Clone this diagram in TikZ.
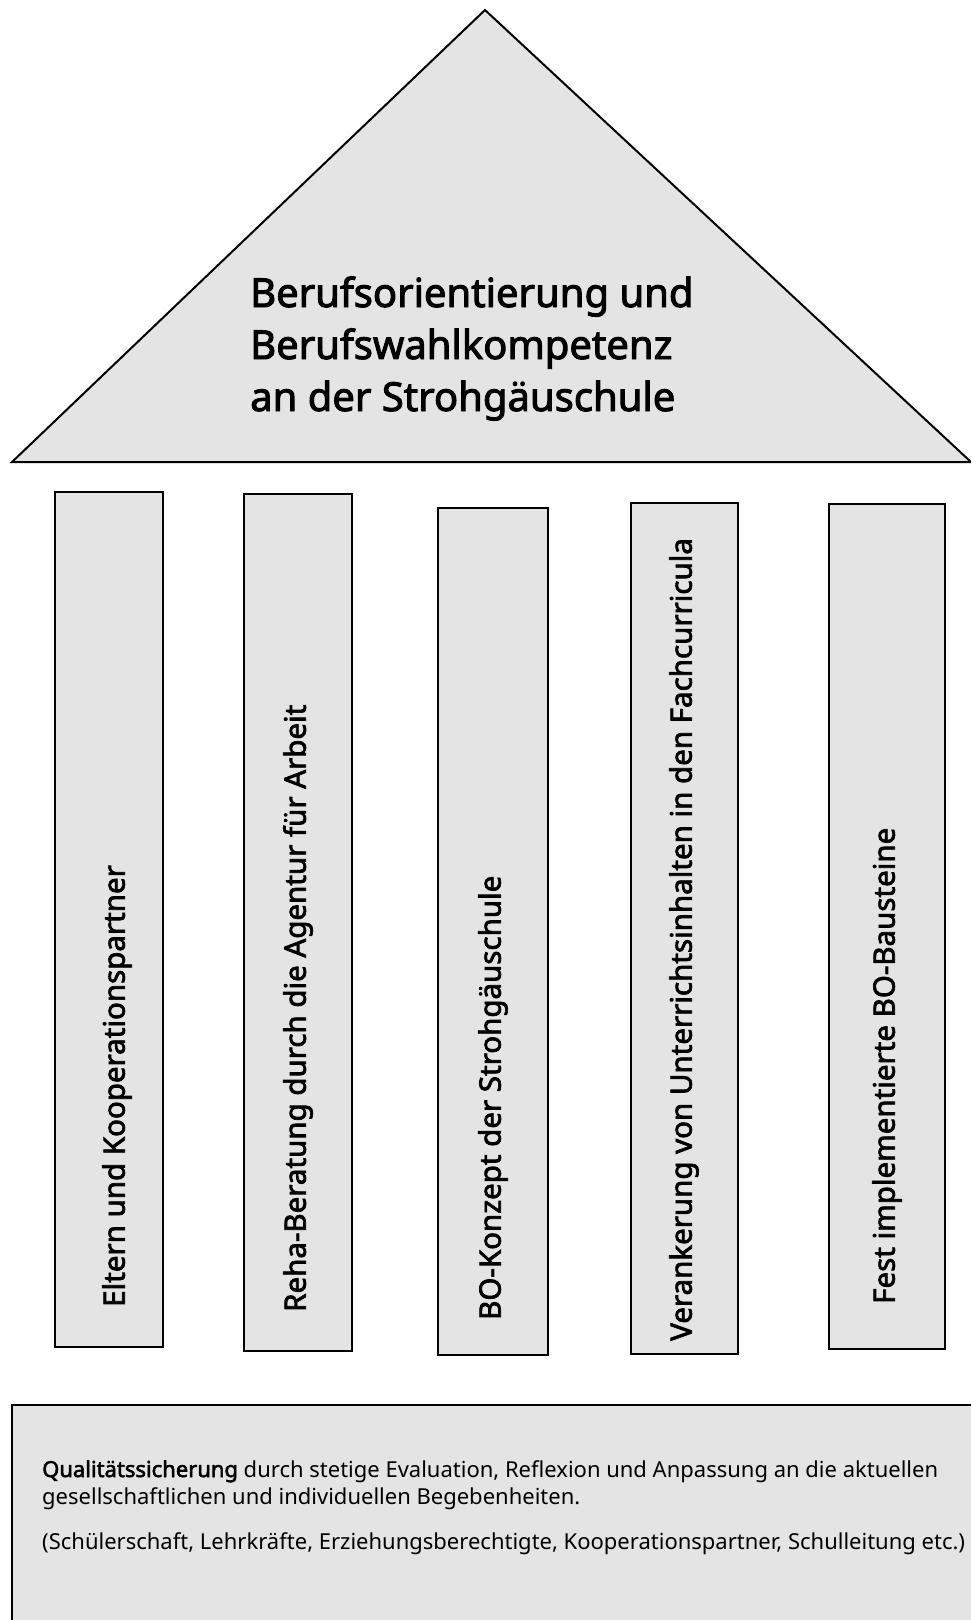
\documentclass[tikz,border=0pt]{standalone}
\usepackage{fontspec}
\setmainfont{Noto Sans}
\newfontfamily\headfont[FakeBold=2.4]{Noto Sans}
\newfontfamily\strongfont[FakeBold=2.5]{Noto Sans}
\usepackage{tikz}
\definecolor{roofgray}{RGB}{228,228,228}

\begin{document}
\begin{tikzpicture}[x=1pt,y=-1pt,
	part/.style={draw=black,line width=2pt,fill=roofgray},
	pillartext/.style={rotate=90,anchor=west,inner sep=0pt,font=\headfont\fontsize{29.5}{34}\selectfont}]
	\useasboundingbox (0,0) rectangle (971,1620);
	% roof
	\draw[part] (12,462) -- (485,10) -- (971,462) -- cycle;
	\node[anchor=base west,align=left,inner sep=0pt,font=\headfont\fontsize{40}{52}\selectfont] (title) at (250,411) {Berufsorientierung und\\Berufswahlkompetenz\\an der Strohgäuschule};
	% pillars
	\foreach \i/\xa/\xb/\ya/\yb/\xt/\yt/\txt in {
		1/55/163/492/1347/117/1307/Eltern und Kooperationspartner,
		2/244/352/494/1351/298/1312/Reha-Beratung durch die Agentur für Arbeit,
		3/438/548/508/1355/493/1320/BO-Konzept der Strohgäuschule,
		4/631/738/503/1354/684/1341/Verankerung von Unterrichtsinhalten in den Fachcurricula,
		5/829/945/504/1349/887/1304/Fest implementierte BO-Bausteine}{
		\draw[part] (\xa,\ya) rectangle (\xb,\yb);
		\node[pillartext] (p\i) at (\xt,\yt) {\txt};
	}
	% foundation
	\draw[part] (12,1405) rectangle (1000,1700);
	\node[anchor=base west,align=left,inner sep=0pt,font=\fontsize{22}{27}\selectfont] (note) at (42,1549) {{\strongfont Qualitätssicherung} durch stetige Evaluation, Reflexion und Anpassung an die aktuellen\\gesellschaftlichen und individuellen Begebenheiten.\\[18pt](Schülerschaft, Lehrkräfte, Erziehungsberechtigte, Kooperationspartner, Schulleitung etc.)};
\end{tikzpicture}
\end{document}
